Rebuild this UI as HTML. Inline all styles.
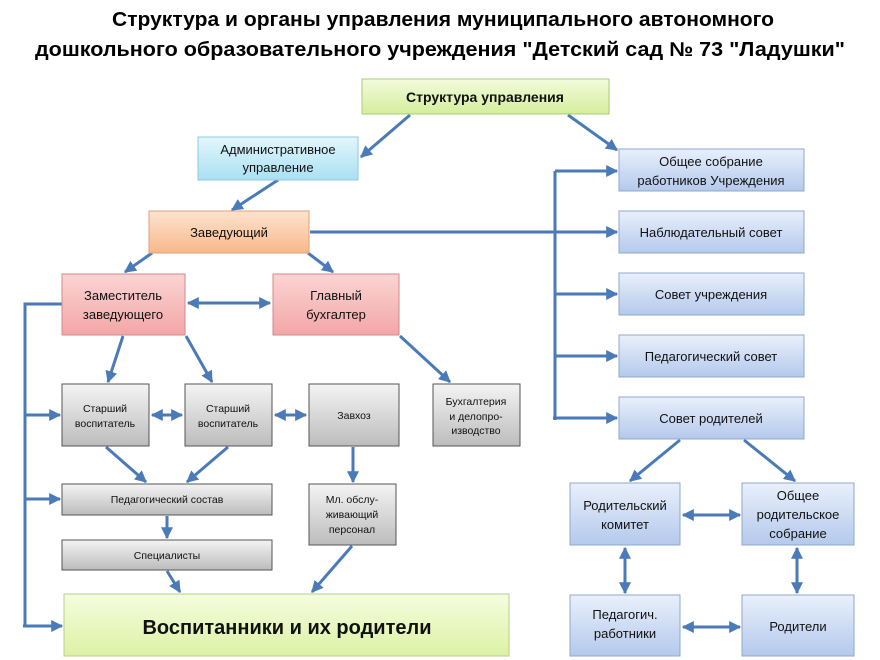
<!DOCTYPE html>
<html><head><meta charset="utf-8">
<style>
html,body{margin:0;padding:0;background:#fff;}
svg{display:block;font-family:"Liberation Sans","DejaVu Sans",sans-serif;}
</style></head>
<body>
<svg width="880" height="660" viewBox="0 0 880 660" xmlns="http://www.w3.org/2000/svg">
<defs>
<linearGradient id="gGreen" x1="0" y1="0" x2="0" y2="1"><stop offset="0" stop-color="#f3fbdc"/><stop offset="1" stop-color="#d4ee9c"/></linearGradient>
<linearGradient id="gCyan" x1="0" y1="0" x2="0" y2="1"><stop offset="0" stop-color="#e4f6fc"/><stop offset="1" stop-color="#a9e0f3"/></linearGradient>
<linearGradient id="gOrange" x1="0" y1="0" x2="0" y2="1"><stop offset="0" stop-color="#fde3cf"/><stop offset="1" stop-color="#f8b88a"/></linearGradient>
<linearGradient id="gPink" x1="0" y1="0" x2="0" y2="1"><stop offset="0" stop-color="#fbd4d4"/><stop offset="1" stop-color="#f3a6a6"/></linearGradient>
<linearGradient id="gGray" x1="0" y1="0" x2="0" y2="1"><stop offset="0" stop-color="#f4f4f4"/><stop offset="1" stop-color="#bcbcbc"/></linearGradient>
<linearGradient id="gBlue" x1="0" y1="0" x2="0" y2="1"><stop offset="0" stop-color="#e9f0fb"/><stop offset="1" stop-color="#b4c9ec"/></linearGradient>
<linearGradient id="gLime" x1="0" y1="0" x2="0" y2="1"><stop offset="0" stop-color="#f6fcdf"/><stop offset="1" stop-color="#dcf2a4"/></linearGradient>
<marker id="ah" viewBox="0 0 10 10" refX="9" refY="5" markerWidth="4" markerHeight="4" orient="auto-start-reverse" markerUnits="strokeWidth"><path d="M0,0 L10,5 L0,10 z" fill="#4a7ab8"/></marker>
</defs>

<text x="443" y="26" text-anchor="middle" font-size="20" font-weight="bold" textLength="662" lengthAdjust="spacingAndGlyphs">Структура и органы управления муниципального автономного</text>
<text x="440" y="56" text-anchor="middle" font-size="20" font-weight="bold" textLength="810" lengthAdjust="spacingAndGlyphs">дошкольного образовательного учреждения "Детский сад № 73 "Ладушки"</text>

<g stroke="#4a7ab8" stroke-width="3" fill="none">
<!-- top -->
<line x1="410" y1="115" x2="361" y2="157" marker-end="url(#ah)"/>
<line x1="568" y1="115" x2="617" y2="150" marker-end="url(#ah)"/>
<line x1="278" y1="180" x2="232" y2="210" marker-end="url(#ah)"/>
<line x1="310" y1="232" x2="617" y2="232" marker-end="url(#ah)"/>
<!-- right bus -->
<polyline points="555,420 555,171"/>
<line x1="555" y1="171" x2="617" y2="171" marker-end="url(#ah)"/>
<line x1="555" y1="294" x2="617" y2="294" marker-end="url(#ah)"/>
<line x1="555" y1="356" x2="617" y2="356" marker-end="url(#ah)"/>
<line x1="553" y1="418" x2="617" y2="418" marker-end="url(#ah)"/>
<!-- zaveduyushiy to deputies -->
<line x1="152" y1="253" x2="125" y2="272" marker-end="url(#ah)"/>
<line x1="308" y1="253" x2="333" y2="272" marker-end="url(#ah)"/>
<line x1="188" y1="303" x2="270" y2="303" marker-start="url(#ah)" marker-end="url(#ah)"/>
<!-- left bus -->
<polyline points="62,304 25,304 25,626"/>
<line x1="25" y1="415" x2="60" y2="415" marker-end="url(#ah)"/>
<line x1="25" y1="499" x2="60" y2="499" marker-end="url(#ah)"/>
<line x1="23" y1="626" x2="62" y2="626" marker-end="url(#ah)"/>
<!-- deputy down -->
<line x1="123" y1="336" x2="108" y2="382" marker-end="url(#ah)"/>
<line x1="186" y1="336" x2="212" y2="382" marker-end="url(#ah)"/>
<line x1="400" y1="336" x2="450" y2="382" marker-end="url(#ah)"/>
<line x1="152" y1="415" x2="182" y2="415" marker-start="url(#ah)" marker-end="url(#ah)"/>
<line x1="275" y1="415" x2="306" y2="415" marker-start="url(#ah)" marker-end="url(#ah)"/>
<line x1="106" y1="447" x2="146" y2="482" marker-end="url(#ah)"/>
<line x1="228" y1="447" x2="187" y2="482" marker-end="url(#ah)"/>
<line x1="353" y1="447" x2="353" y2="482" marker-end="url(#ah)"/>
<line x1="167" y1="516" x2="167" y2="538" marker-end="url(#ah)"/>
<line x1="167" y1="571" x2="180" y2="592" marker-end="url(#ah)"/>
<line x1="352" y1="546" x2="312" y2="592" marker-end="url(#ah)"/>
<!-- parents block -->
<line x1="680" y1="440" x2="630" y2="481" marker-end="url(#ah)"/>
<line x1="744" y1="440" x2="795" y2="481" marker-end="url(#ah)"/>
<line x1="683" y1="515" x2="740" y2="515" marker-start="url(#ah)" marker-end="url(#ah)"/>
<line x1="625" y1="548" x2="625" y2="593" marker-start="url(#ah)" marker-end="url(#ah)"/>
<line x1="797" y1="548" x2="797" y2="593" marker-start="url(#ah)" marker-end="url(#ah)"/>
<line x1="683" y1="627" x2="740" y2="627" marker-start="url(#ah)" marker-end="url(#ah)"/>
</g>

<g stroke-width="1">
<rect x="362" y="79" width="247" height="35" fill="url(#gGreen)" stroke="#a9c97a"/>
<rect x="198" y="137" width="160" height="43" fill="url(#gCyan)" stroke="#8ccbe0"/>
<rect x="149" y="211" width="160" height="42" fill="url(#gOrange)" stroke="#e0a07a"/>
<rect x="62" y="274" width="123" height="61" fill="url(#gPink)" stroke="#d08a8a"/>
<rect x="273" y="274" width="126" height="61" fill="url(#gPink)" stroke="#d08a8a"/>
<rect x="62" y="384" width="87" height="62" fill="url(#gGray)" stroke="#555"/>
<rect x="185" y="384" width="87" height="62" fill="url(#gGray)" stroke="#555"/>
<rect x="309" y="384" width="90" height="62" fill="url(#gGray)" stroke="#555"/>
<rect x="433" y="384" width="87" height="62" fill="url(#gGray)" stroke="#555"/>
<rect x="62" y="484" width="210" height="31" fill="url(#gGray)" stroke="#555"/>
<rect x="62" y="540" width="210" height="30" fill="url(#gGray)" stroke="#555"/>
<rect x="309" y="484" width="87" height="61" fill="url(#gGray)" stroke="#555"/>
<rect x="64" y="594" width="445" height="62" fill="url(#gLime)" stroke="#b7cf8a"/>
<rect x="619" y="149" width="185" height="42" fill="url(#gBlue)" stroke="#8fa8cf"/>
<rect x="619" y="211" width="185" height="42" fill="url(#gBlue)" stroke="#8fa8cf"/>
<rect x="619" y="273" width="185" height="42" fill="url(#gBlue)" stroke="#8fa8cf"/>
<rect x="619" y="335" width="185" height="42" fill="url(#gBlue)" stroke="#8fa8cf"/>
<rect x="619" y="397" width="185" height="42" fill="url(#gBlue)" stroke="#8fa8cf"/>
<rect x="570" y="483" width="110" height="62" fill="url(#gBlue)" stroke="#8fa8cf"/>
<rect x="742" y="483" width="112" height="62" fill="url(#gBlue)" stroke="#8fa8cf"/>
<rect x="570" y="595" width="110" height="61" fill="url(#gBlue)" stroke="#8fa8cf"/>
<rect x="742" y="595" width="112" height="61" fill="url(#gBlue)" stroke="#8fa8cf"/>
</g>

<g text-anchor="middle" fill="#111">
<text x="485" y="102" font-size="14" font-weight="bold">Структура управления</text>
<text x="278" y="154" font-size="13">Административное</text>
<text x="278" y="172" font-size="13">управление</text>
<text x="229" y="237" font-size="13">Заведующий</text>
<text x="123" y="300" font-size="13">Заместитель</text>
<text x="123" y="319" font-size="13">заведующего</text>
<text x="336" y="300" font-size="13">Главный</text>
<text x="336" y="319" font-size="13">бухгалтер</text>
<text x="105" y="412" font-size="10.5">Старший</text>
<text x="105" y="427" font-size="10.5">воспитатель</text>
<text x="228" y="412" font-size="10.5">Старший</text>
<text x="228" y="427" font-size="10.5">воспитатель</text>
<text x="354" y="419" font-size="10.5">Завхоз</text>
<text x="476" y="405" font-size="10.5">Бухгалтерия</text>
<text x="476" y="420" font-size="10.5">и делопро-</text>
<text x="476" y="434" font-size="10.5">изводство</text>
<text x="167" y="503" font-size="10.5">Педагогический состав</text>
<text x="167" y="559" font-size="10.5">Специалисты</text>
<text x="352" y="503" font-size="10.5">Мл. обслу-</text>
<text x="352" y="518" font-size="10.5">живающий</text>
<text x="352" y="533" font-size="10.5">персонал</text>
<text x="287" y="634" font-size="20" font-weight="bold">Воспитанники  и их родители</text>
<text x="711" y="166" font-size="13">Общее собрание</text>
<text x="711" y="185" font-size="13">работников Учреждения</text>
<text x="711" y="237" font-size="13">Наблюдательный совет</text>
<text x="711" y="299" font-size="13">Совет учреждения</text>
<text x="711" y="361" font-size="13">Педагогический совет</text>
<text x="711" y="423" font-size="13">Совет родителей</text>
<text x="625" y="510" font-size="13">Родительский</text>
<text x="625" y="529" font-size="13">комитет</text>
<text x="798" y="500" font-size="13">Общее</text>
<text x="798" y="519" font-size="13">родительское</text>
<text x="798" y="538" font-size="13">собрание</text>
<text x="625" y="619" font-size="13">Педагогич.</text>
<text x="625" y="638" font-size="13">работники</text>
<text x="798" y="631" font-size="13">Родители</text>
</g>
</svg>
</body></html>
